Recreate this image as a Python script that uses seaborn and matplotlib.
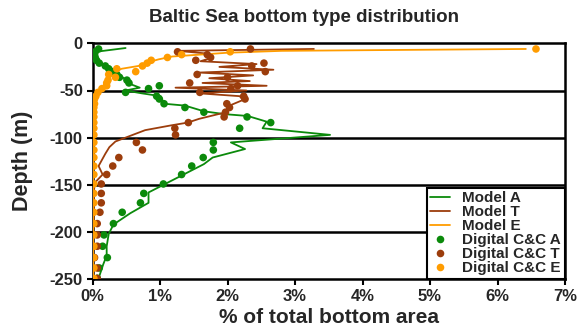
import numpy as np
import pandas as pd
import matplotlib
matplotlib.use("Agg")
import matplotlib.pyplot as plt
import seaborn as sns

# ---------------- data (percent of total bottom area vs depth in m) ----------------
model_A_depth = [-5, -9, -13, -17, -21, -26, -33, -40, -44, -47, -50, -53, -56, -64, -66, -72, -75, -77,
                 -83, -90, -97, -105, -112, -121, -128, -158, -169, -180, -192, -202, -215, -225, -234, -249]
model_A_pct = [0.49, 0.05, 0.03, 0.05, 0.09, 0.24, 0.38, 0.53, 0.59, 0.70, 0.49, 0.73, 1.01, 1.06, 1.37,
               1.65, 1.95, 2.30, 2.58, 2.52, 3.52, 2.05, 2.26, 1.78, 1.65, 0.83, 0.83, 0.56, 0.31, 0.24,
               0.21, 0.21, 0.16, 0.09]

model_T_depth = [-6, -8, -11, -15, -19, -22, -25, -28, -31, -34, -37, -40, -42, -45, -47, -50, -53, -56,
                 -60, -66, -73, -80, -84, -87, -92, -104, -110, -117, -130, -139, -148, -160, -170, -185,
                 -200, -220, -235, -250]
model_T_pct = [3.28, 1.26, 1.72, 1.78, 1.60, 2.43, 1.88, 2.68, 1.58, 2.38, 1.73, 2.33, 1.63, 2.58, 1.23,
               2.28, 1.58, 2.18, 2.23, 2.03, 1.98, 1.58, 1.41, 1.16, 0.78, 0.34, 0.25, 0.19, 0.09, 0.15,
               0.03, 0.02, 0.02, 0.02, 0.01, 0.01, 0.01, 0.01]

model_E_depth = [-6, -8, -10, -14, -17, -20, -24, -27, -30, -34, -40, -45, -50, -55, -60, -70, -90, -120,
                 -150, -180, -210, -250]
model_E_pct = [6.42, 2.80, 2.00, 1.18, 0.98, 0.83, 0.68, 0.43, 0.33, 0.28, 0.20, 0.16, 0.10, 0.06, 0.03,
               0.02, 0.02, 0.01, 0.01, 0.01, 0.01, 0.01]

cc_depth = [-6, -9, -12, -15, -18, -21, -24, -27, -30, -33, -36, -39, -42, -45, -48, -52, -56, -59, -64,
            -68, -73, -78, -84, -90, -97, -105, -113, -121, -130, -139, -149, -159, -169, -179, -191,
            -203, -215, -227, -238, -249]
cc_A_pct = [0.09, 0.04, 0.03, 0.04, 0.06, 0.10, 0.19, 0.24, 0.29, 0.36, 0.40, 0.51, 0.54, 0.99, 0.83,
            0.49, 0.95, 0.99, 1.06, 1.37, 1.65, 2.29, 2.64, 2.18, np.nan, 1.79, 1.79, 1.64, 1.47, 1.32,
            1.05, 0.76, 0.71, 0.44, 0.31, 0.17, 0.15, 0.22, 0.10, 0.07]
cc_T_pct = [2.34, 1.26, 1.70, 1.75, 1.53, 2.54, 2.36, np.nan, 2.56, 1.55, 2.00, np.nan, 1.44, 2.15, 2.05,
            1.59, 2.24, 2.26, 1.99, 2.03, 1.97, 1.95, 1.42, 1.22, 1.23, 0.65, 0.74, 0.39, 0.30, 0.21,
            0.13, 0.13, 0.13, 0.11, 0.07, 0.07, 0.07, 0.03, 0.07, 0.07]
cc_E_pct = [6.57, 2.04, 1.32, 1.11, 0.87, 0.81, 0.74, 0.36, 0.64, 0.24, 0.34, 0.23, 0.21, 0.21, 0.14,
            0.08, 0.05, 0.03, 0.03, 0.02, 0.02, 0.02, 0.02, 0.02, 0.02, 0.02, 0.02, 0.02, 0.02, 0.02,
            0.02, 0.02, 0.02, 0.02, 0.02, 0.02, 0.02, 0.02, 0.02, 0.02]

x_ticks = [0, 1, 2, 3, 4, 5, 6, 7]
x_tick_labels = ["0%", "1%", "2%", "3%", "4%", "5%", "6%", "7%"]
y_ticks = [0, -50, -100, -150, -200, -250]
y_tick_labels = ["0", "-50", "-100", "-150", "-200", "-250"]

line_names = ["Model A", "Model T", "Model E"]
dot_names = ["Digital C&C A", "Digital C&C T", "Digital C&C E"]
GREEN, BROWN, ORANGE = "#0b8a0b", "#9c3d0c", "#ff9c00"

# ---------------- frames ----------------
lines = pd.concat([
    pd.DataFrame({"pct": model_A_pct, "depth": model_A_depth, "series": line_names[0]}),
    pd.DataFrame({"pct": model_T_pct, "depth": model_T_depth, "series": line_names[1]}),
    pd.DataFrame({"pct": model_E_pct, "depth": model_E_depth, "series": line_names[2]}),
], ignore_index=True)
dots = pd.concat([
    pd.DataFrame({"pct": cc_A_pct, "depth": cc_depth, "series": dot_names[0]}),
    pd.DataFrame({"pct": cc_T_pct, "depth": cc_depth, "series": dot_names[1]}),
    pd.DataFrame({"pct": cc_E_pct, "depth": cc_depth, "series": dot_names[2]}),
], ignore_index=True).dropna()

# ---------------- plot ----------------
sns.set_theme(style="white")
plt.rcParams["font.family"] = ["Liberation Sans", "DejaVu Sans"]
plt.rcParams["font.weight"] = "bold"
plt.rcParams["axes.unicode_minus"] = False

fig = plt.figure(figsize=(5.79, 3.34), dpi=100)
ax = fig.add_axes([92.5 / 579, 1 - 279.3 / 334, (565 - 92.5) / 579, (279.3 - 43.3) / 334])

for yv in [-50, -100, -150, -200]:
    ax.axhline(yv, color="black", lw=1.8, zorder=1)

sns.lineplot(data=lines, x="pct", y="depth", hue="series", sort=False, estimator=None,
             palette=dict(zip(line_names, [GREEN, BROWN, ORANGE])), hue_order=line_names,
             lw=1.3, ax=ax, zorder=3)
sns.scatterplot(data=dots, x="pct", y="depth", hue="series",
                palette=dict(zip(dot_names, [GREEN, BROWN, ORANGE])), hue_order=dot_names,
                s=30, linewidth=0, ax=ax, zorder=4)

ax.set_xlim(0, 7)
ax.set_ylim(-250, 0)
ax.set_xticks(x_ticks)
ax.set_xticklabels(x_tick_labels, fontsize=12, fontweight="bold")
ax.set_yticks(y_ticks)
ax.set_yticklabels(y_tick_labels, fontsize=12, fontweight="bold")
ax.tick_params(axis="both", direction="out", length=4, width=1.5, color="black", pad=3,
               bottom=True, left=True)
for sp in ax.spines.values():
    sp.set_color("black")
    sp.set_linewidth(1.8)

ax.set_xlabel("% of total bottom area", fontsize=15, fontweight="bold", labelpad=3)
ax.set_ylabel("Depth (m)", fontsize=15.5, fontweight="bold", labelpad=12)
fig.text(304 / 579, 1 - 18 / 334, "Baltic Sea bottom type distribution", fontsize=13.5,
         fontweight="bold", ha="center", va="center")

handles, labels = ax.get_legend_handles_labels()
leg = ax.legend(handles, labels, loc="lower right", frameon=True, fancybox=False,
                borderaxespad=0, handlelength=1.3, handletextpad=0.8, labelspacing=0.0,
                borderpad=0.25, prop={"weight": "bold", "size": 11.0})
leg.get_frame().set_edgecolor("black")
leg.get_frame().set_linewidth(1.5)
leg.get_frame().set_alpha(1)

fig.savefig("out.png", dpi=100)
